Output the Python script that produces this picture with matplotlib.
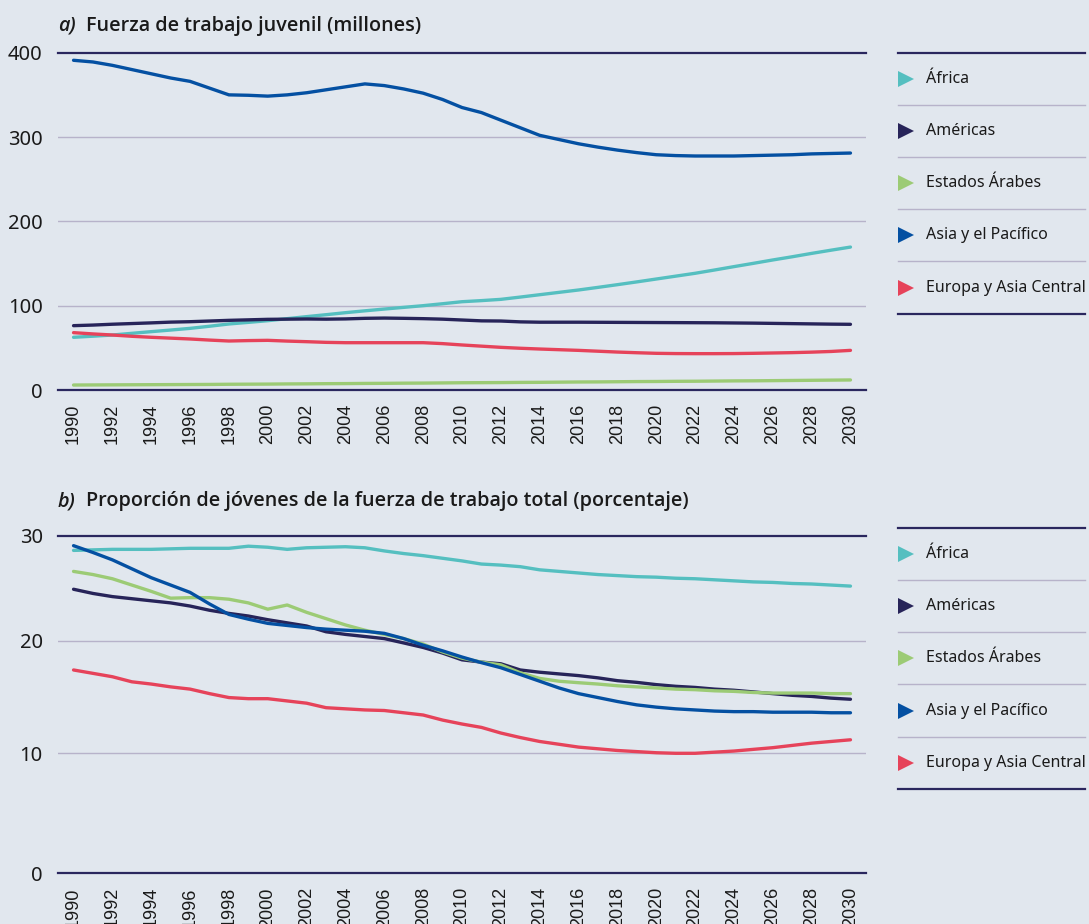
import numpy as np
import matplotlib
matplotlib.use("Agg")
import matplotlib.pyplot as plt
from matplotlib.lines import Line2D

# ---------------- data ----------------
years = list(range(1990, 2031))
series_names = ["África", "Américas", "Estados Árabes", "Asia y el Pacífico", "Europa y Asia Central"]

africa_a = [62.5, 63.8, 65.2, 67.2, 69.2, 71.1, 73.1, 75.6, 78.3, 80.2, 82.2, 84.6, 87.0, 89.3, 91.7,
            93.9, 96.0, 98.0, 100.0, 102.3, 104.7, 106.0, 107.5, 110.2, 113.0, 115.8, 118.6, 121.7,
            124.9, 128.2, 131.6, 135.0, 138.4, 142.3, 146.3, 150.2, 154.2, 158.0, 162.0, 165.8, 169.5]
americas_a = [76.3, 77.0, 78.0, 78.8, 79.6, 80.5, 81.0, 81.8, 82.6, 83.2, 83.8, 84.0, 84.2, 84.0, 84.3,
              85.0, 85.3, 85.0, 84.6, 84.0, 83.0, 82.0, 81.8, 80.8, 80.4, 80.4, 80.4, 80.3, 80.2, 80.1,
              80.0, 79.9, 79.8, 79.7, 79.5, 79.3, 79.0, 78.7, 78.4, 78.1, 77.9]
arab_a = [5.9, 6.0, 6.1, 6.2, 6.3, 6.4, 6.5, 6.6, 6.8, 6.9, 7.0, 7.2, 7.3, 7.5, 7.6, 7.8, 7.9, 8.1,
          8.2, 8.4, 8.6, 8.7, 8.8, 9.0, 9.1, 9.3, 9.5, 9.6, 9.8, 10.0, 10.1, 10.3, 10.4, 10.6, 10.8,
          10.9, 11.1, 11.3, 11.5, 11.7, 11.9]
asia_a = [391, 389, 385, 380, 375, 370, 366, 358, 350, 349.5, 348.5, 350, 352.5, 356, 359.5, 363, 361,
          357, 352, 344.5, 335, 329, 320, 311, 302, 297, 292, 288, 284.5, 281.5, 279, 278, 277.5,
          277.5, 277.5, 278, 278.5, 279, 280, 280.5, 281]
europe_a = [68, 66.5, 65.2, 63.7, 62.5, 61.5, 60.5, 59.2, 58.1, 58.6, 58.9, 58.0, 57.3, 56.5, 56.1,
            56.1, 56.1, 56.1, 56.1, 55.0, 53.4, 52.0, 50.6, 49.5, 48.6, 47.8, 47.0, 46.0, 45.0, 44.2,
            43.5, 43.2, 43.1, 43.1, 43.2, 43.5, 43.9, 44.3, 44.9, 45.7, 47.0]

africa_b = [28.6, 28.65, 28.7, 28.7, 28.7, 28.75, 28.8, 28.8, 28.8, 29.0, 28.9, 28.7, 28.85, 28.9,
            28.95, 28.85, 28.55, 28.3, 28.1, 27.85, 27.6, 27.3, 27.2, 27.05, 26.75, 26.6, 26.45, 26.3,
            26.2, 26.1, 26.05, 25.95, 25.9, 25.8, 25.7, 25.6, 25.55, 25.45, 25.4, 25.3, 25.2]
americas_b = [24.9, 24.5, 24.2, 24.0, 23.8, 23.6, 23.3, 22.9, 22.6, 22.35, 22.0, 21.7, 21.4, 20.85,
              20.6, 20.4, 20.2, 19.8, 19.4, 18.9, 18.3, 18.1, 17.95, 17.4, 17.2, 17.05, 16.9, 16.7,
              16.45, 16.3, 16.1, 15.95, 15.85, 15.7, 15.6, 15.45, 15.3, 15.15, 15.05, 14.9, 14.8]
arab_b = [26.6, 26.3, 25.9, 25.3, 24.7, 24.05, 24.1, 24.1, 23.95, 23.6, 23.0, 23.4, 22.7, 22.1, 21.5,
          21.0, 20.6, 20.2, 19.7, 19.0, 18.45, 18.1, 17.85, 17.15, 16.65, 16.4, 16.27, 16.15, 16.0,
          15.9, 15.8, 15.7, 15.65, 15.55, 15.5, 15.4, 15.35, 15.35, 15.35, 15.3, 15.3]
asia_b = [29.05, 28.4, 27.7, 26.85, 26.0, 25.3, 24.6, 23.5, 22.5, 22.05, 21.65, 21.45, 21.25, 21.1,
          21.0, 20.9, 20.7, 20.2, 19.6, 19.1, 18.55, 18.05, 17.6, 17.0, 16.4, 15.8, 15.3, 14.95, 14.6,
          14.3, 14.1, 13.95, 13.85, 13.75, 13.7, 13.7, 13.65, 13.65, 13.65, 13.6, 13.6]
europe_b = [17.4, 17.1, 16.8, 16.35, 16.15, 15.9, 15.7, 15.3, 14.95, 14.85, 14.85, 14.65, 14.45, 14.05,
            13.95, 13.85, 13.8, 13.6, 13.4, 12.95, 12.6, 12.3, 11.8, 11.4, 11.05, 10.8, 10.55, 10.4,
            10.25, 10.15, 10.05, 10.0, 10.0, 10.1, 10.2, 10.35, 10.5, 10.7, 10.9, 11.05, 11.2]

yticks_a = [0, 100, 200, 300, 400]
yticks_b = [0, 10, 20, 30]
xticks = list(range(1990, 2031, 2))
title_a = ("a)", "Fuerza de trabajo juvenil (millones)")
title_b = ("b)", "Proporción de jóvenes de la fuerza de trabajo total (porcentaje)")

# ---------------- style ----------------
BG = "#E1E7EE"
DARK = "#2A275E"
GRID = "#B7B3CA"
TEXT = "#1A1A1A"
colors = ["#55BFC0", "#272459", "#9CCB75", "#0450A2", "#E6435A"]
FONT = "Noto Sans"
BOLDFONT = "Open Sans"

W, H = 1089, 924
fig = plt.figure(figsize=(W / 100, H / 100), dpi=100, facecolor=BG)


def fx(px):
    return px / W


def fy(py):
    return 1 - py / H


# non-uniform value axis of panel b (as drawn in the reference)
bp = np.array([0.0, 10.0, 20.0, 30.0])
pp = np.array([0.0, 120.0, 232.6, 337.6])


def fwd(v):
    v = np.asarray(v, dtype=float)
    out = np.interp(v, bp, pp)
    out = np.where(v < 0, v * 12.0, out)
    out = np.where(v > 30, 337.6 + (v - 30) * 10.5, out)
    return out


def inv(p):
    p = np.asarray(p, dtype=float)
    out = np.interp(p, pp, bp)
    out = np.where(p < 0, p / 12.0, out)
    out = np.where(p > 337.6, 30 + (p - 337.6) / 10.5, out)
    return out


def setup(ax, ymax, yticks):
    ax.set_facecolor(BG)
    for s in ax.spines.values():
        s.set_visible(False)
    ax.set_xlim(1989.2, 2030.8)
    ax.set_ylim(0, ymax)
    for t in yticks:
        if t in (0, ymax):
            ax.axhline(t, color=DARK, lw=1.6, zorder=1, clip_on=False)
        else:
            ax.axhline(t, color=GRID, lw=1.0, zorder=1)
    ax.set_yticks(yticks)
    ax.set_yticklabels([str(t) for t in yticks], fontfamily=FONT, fontsize=14.5, color=TEXT)
    ax.set_xticks(xticks)
    ax.set_xticklabels([str(x) for x in xticks], rotation=90, fontfamily="Liberation Sans",
                       fontsize=13, color=TEXT)
    ax.tick_params(axis="both", length=0)
    ax.tick_params(axis="y", pad=11)
    ax.tick_params(axis="x", pad=10)


def legend(top, step):
    x0, x1 = 898, 1085
    for i in range(6):
        y = top + i * step
        c = DARK if i in (0, 5) else GRID
        lw = 1.6 if i in (0, 5) else 1.0
        fig.add_artist(Line2D([fx(x0), fx(x1)], [fy(y), fy(y)], color=c, lw=lw))
    for i, (name, col) in enumerate(zip(series_names, colors)):
        yc = top + (i + 0.5) * step
        fig.add_artist(Line2D([fx(906)], [fy(yc)], marker=">", color=col, markersize=11.5, lw=0,
                              markeredgewidth=0))
        fig.text(fx(926), fy(yc), name, fontfamily=FONT, fontsize=11.5, color=TEXT,
                 va="center", ha="left")


def title(ypx, parts):
    fig.text(fx(58), fy(ypx), parts[0], fontfamily=BOLDFONT, fontsize=14.2, fontweight="semibold",
             fontstyle="italic", color=TEXT, va="center", ha="left")
    fig.text(fx(86), fy(ypx), parts[1], fontfamily=BOLDFONT, fontsize=14.2, fontweight="semibold",
             color=TEXT, va="center", ha="left")


# panel a
axa = fig.add_axes([fx(58), fy(390), fx(866 - 58), (390 - 52.7) / H])
setup(axa, 400, yticks_a)
for vals, col in zip([africa_a, americas_a, arab_a, asia_a, europe_a], colors):
    axa.plot(years, vals, color=col, lw=2.4, solid_capstyle="round", zorder=3)

# panel b
axb = fig.add_axes([fx(58), fy(873.3), fx(866 - 58), (873.3 - 535.7) / H])
axb.set_yscale("function", functions=(fwd, inv))
setup(axb, 30, yticks_b)
for vals, col in zip([africa_b, americas_b, arab_b, asia_b, europe_b], colors):
    axb.plot(years, vals, color=col, lw=2.4, solid_capstyle="round", zorder=3)

title(25.5, title_a)
title(501, title_b)
legend(52.7, 52.2)
legend(527.5, 52.3)

fig.savefig("out.png", dpi=100, facecolor=BG)
